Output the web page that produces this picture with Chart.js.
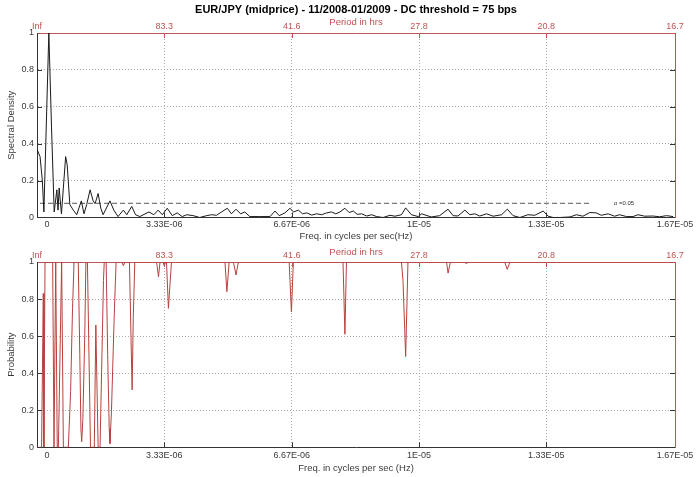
<!DOCTYPE html>
<html><head><meta charset="utf-8">
<script src="https://cdn.jsdelivr.net/npm/chart.js@4.4.1/dist/chart.umd.min.js"></script>
<style>
html,body{margin:0;padding:0;background:#fff;}
#wrap{position:relative;width:698px;height:477px;overflow:hidden;background:#fff;}
canvas{position:absolute;left:0;}
#c1{top:0;} #c2{top:242px;}
</style></head><body>
<div id="wrap"><canvas id="c1" width="698" height="242"></canvas><canvas id="c2" width="698" height="235"></canvas></div>
<script>
// ---------- DATA (frequency in units of 1E-06 Hz) ----------
const titleText = 'EUR/JPY (midprice) - 11/2008-01/2009 - DC threshold = 75 bps';
const freqTickValues = [0.26, 3.33, 6.67, 10, 13.33, 16.7];
const freqTickLabels = ['0', '3.33E-06', '6.67E-06', '1E-05', '1.33E-05', '1.67E-05'];
const periodTickValues = [0, 3.33, 6.67, 10, 13.33, 16.7];
const periodTickLabels = ['Inf', '83.3', '41.6', '27.8', '20.8', '16.7'];

const specFreq = [0, 0.08, 0.14, 0.18, 0.31, 0.38, 0.45, 0.52, 0.55, 0.58, 0.64, 0.75, 0.79, 0.86, 0.95, 1.04, 1.16, 1.23, 1.30, 1.39, 1.47, 1.52, 1.60, 1.67, 1.73, 1.91, 2.01, 2.12, 2.26, 2.35, 2.48, 2.58, 2.69, 2.93, 3.06, 3.17, 3.28, 3.41, 3.54, 3.67, 3.80, 3.92, 4.09, 4.26, 4.44, 4.57, 4.70, 4.83, 4.98, 5.09, 5.21, 5.33, 5.44, 5.57, 5.83, 6.10, 6.23, 6.34, 6.49, 6.62, 6.72, 6.84, 6.95, 7.06, 7.19, 7.32, 7.45, 7.58, 7.71, 7.82, 7.93, 8.06, 8.17, 8.28, 8.38, 8.50, 8.63, 8.76, 8.89, 9.06, 9.24, 9.37, 9.54, 9.65, 9.80, 9.98, 10.07, 10.24, 10.33, 10.54, 10.76, 10.89, 11.02, 11.20, 11.33, 11.46, 11.59, 11.77, 11.94, 12.16, 12.31, 12.46, 12.64, 12.85, 13.03, 13.25, 13.38, 13.51, 13.68, 13.95, 14.12, 14.29, 14.47, 14.64, 14.77, 14.95, 15.12, 15.25, 15.43, 15.60, 15.73, 15.91, 16.12, 16.30, 16.48, 16.65];
const specDensity = [0.37, 0.33, 0.20, 0.03, 1.0, 0.49, 0.03, 0.15, 0.04, 0.16, 0.02, 0.33, 0.285, 0.07, 0.04, 0.015, 0.09, 0.02, 0.07, 0.15, 0.09, 0.075, 0.13, 0.05, 0.015, 0.09, 0.04, 0.005, 0.04, 0.015, 0.06, 0.015, 0.005, 0.03, 0.015, 0.04, 0.015, 0.05, 0.01, 0.025, 0.005, 0.015, 0.01, 0.0, 0.01, 0.015, 0.012, 0.03, 0.05, 0.02, 0.045, 0.02, 0.03, 0.005, 0.005, 0.005, 0.035, 0.01, 0.025, 0.05, 0.03, 0.04, 0.02, 0.025, 0.013, 0.02, 0.015, 0.025, 0.03, 0.02, 0.03, 0.05, 0.027, 0.035, 0.017, 0.02, 0.008, 0.015, 0.005, 0.0, 0.012, 0.007, 0.015, 0.052, 0.015, 0.005, 0.02, 0.008, 0.003, 0.01, 0.045, 0.01, 0.008, 0.04, 0.015, 0.02, 0.008, 0.02, 0.007, 0.015, 0.045, 0.01, 0.0, 0.015, 0.012, 0.035, 0.007, 0.0, 0.0, 0.003, 0.015, 0.007, 0.027, 0.025, 0.012, 0.02, 0.007, 0.015, 0.005, 0.005, 0.015, 0.007, 0.008, 0.004, 0.01, 0.005];

const thresholdFreq = [0.08, 14.5];
const thresholdValue = [0.077, 0.077];
const alphaLabel = '\u03b1 =0.05';

const probFreq = [0, 0.12, 0.165, 0.18, 0.21, 0.41, 0.445, 0.49, 0.53, 0.56, 0.645, 0.69, 0.82, 0.88, 0.93, 0.97, 1.08, 1.12, 1.15, 1.17, 1.20, 1.25, 1.28, 1.32, 1.40, 1.50, 1.54, 1.60, 1.65, 1.70, 1.74, 1.76, 1.81, 1.85, 1.89, 1.91, 1.95, 2.02, 2.07, 2.22, 2.26, 2.30, 2.42, 2.46, 2.49, 2.52, 2.56, 3.13, 3.18, 3.22, 3.30, 3.33, 3.37, 3.39, 3.44, 3.52, 4.92, 4.97, 5.03, 5.14, 5.21, 5.27, 6.60, 6.66, 6.71, 8.01, 8.06, 8.10, 9.54, 9.58, 9.65, 9.71, 10.72, 10.76, 10.82, 11.20, 11.24, 11.28, 12.24, 12.31, 12.38, 16.7];
const probValue = [0, 0, 0.83, 0, 1, 1, 0, 1, 0, 0, 1, 0, 0, 0.3, 0.75, 1, 1, 0.5, 0.1, 0.03, 0.15, 0.6, 1, 1, 0, 0, 0.66, 0, 0, 0.5, 0.9, 1, 1, 0.5, 0.1, 0.02, 0.2, 0.7, 1, 1, 0.98, 1, 1, 0.6, 0.31, 0.7, 1, 1, 0.92, 1, 1, 0.98, 1, 1, 0.75, 1, 1, 0.84, 1, 1, 0.93, 1, 1, 0.73, 1, 1, 0.61, 1, 1, 0.9, 0.49, 1, 1, 0.94, 1, 1, 0.99, 1, 1, 0.96, 1, 1];

// ---------- STYLE ----------
const RED = '#c05353';
const DARK = '#333333';
const TXT = '#3a3a3a';
const FONT = "'Liberation Sans', Arial, Helvetica, sans-serif";
const GRID = '#aaaaaa';

const toXY = (xs, ys) => xs.map((x, i) => ({x, y: ys[i]}));

const innerTicks = {
  id: 'innerTicks',
  afterDraw(chart) {
    const {ctx, chartArea: a, scales} = chart;
    ctx.save();
    ctx.lineWidth = 1;
    const L = 5;
    ctx.strokeStyle = DARK;
    freqTickValues.slice(1, -1).forEach(v => {
      const px = Math.round(scales.x.getPixelForValue(v)) + 0.5;
      ctx.beginPath(); ctx.moveTo(px, a.bottom); ctx.lineTo(px, a.bottom - L); ctx.stroke();
    });
    [0.2, 0.4, 0.6, 0.8].forEach(v => {
      const py = Math.round(scales.y.getPixelForValue(v)) + 0.5;
      ctx.strokeStyle = DARK;
      ctx.beginPath(); ctx.moveTo(a.left, py); ctx.lineTo(a.left + L, py); ctx.stroke();
      ctx.beginPath(); ctx.moveTo(a.right, py); ctx.lineTo(a.right - L, py); ctx.stroke();
    });
    ctx.strokeStyle = RED;
    periodTickValues.slice(1, -1).forEach(v => {
      const px = Math.round(scales.x2.getPixelForValue(v)) + 0.5;
      ctx.beginPath(); ctx.moveTo(px, a.top); ctx.lineTo(px, a.top + L); ctx.stroke();
    });
    if (chart.options.plugins.innerTicks && chart.options.plugins.innerTicks.alpha) {
      ctx.fillStyle = DARK;
      ctx.font = '6px ' + FONT;
      ctx.textBaseline = 'middle';
      ctx.textAlign = 'left';
      ctx.fillText(alphaLabel, scales.x.getPixelForValue(15.1), scales.y.getPixelForValue(thresholdValue[0]));
    }
    ctx.restore();
  }
};

function makeOptions(cfg) {
  const hideEdge = (c) => {
    if (!c.tick) return GRID;
    const v = c.tick.value;
    return (Math.abs(v - c.scale.min) < 1e-9 || Math.abs(v - c.scale.max) < 1e-9) ? 'rgba(0,0,0,0)' : GRID;
  };
  return {
    responsive: false,
    animation: false,
    devicePixelRatio: 1,
    layout: {padding: {left: 0, right: 23, top: 0, bottom: 0}},
    plugins: {
      legend: {display: false},
      tooltip: {enabled: false},
      title: cfg.title ? {
        display: true, text: cfg.title, color: '#000', fullSize: false,
        font: {family: FONT, size: 11, weight: 'bold'}, padding: {top: 3, bottom: 0}
      } : {display: false},
      innerTicks: {alpha: cfg.alpha}
    },
    scales: {
      x: {
        type: 'linear', position: 'bottom', min: 0, max: 16.7,
        afterBuildTicks: s => { s.ticks = freqTickValues.map(v => ({value: v})); },
        afterFit: s => { s.height = cfg.xH; },
        ticks: {
          autoSkip: false, maxRotation: 0, padding: cfg.xTickPad, color: TXT,
          font: {family: FONT, size: 9},
          callback: (v, i) => freqTickLabels[i]
        },
        grid: {
          drawTicks: false, lineWidth: 1,
          color: c => {
            if (!c.tick) return GRID;
            const v = c.tick.value;
            return (v < 1 || v > 16) ? 'rgba(0,0,0,0)' : GRID;
          }
        },
        border: {display: true, color: DARK, width: 1, dash: [1, 2]},
        title: {display: true, text: cfg.xTitle, color: TXT, font: {family: FONT, size: 9.5}, padding: {top: 0, bottom: cfg.xTitlePad}}
      },
      x2: {
        type: 'linear', position: 'top', min: 0, max: 16.7,
        afterBuildTicks: s => { s.ticks = periodTickValues.map(v => ({value: v})); },
        afterFit: s => { s.height = cfg.x2H; },
        ticks: {
          autoSkip: false, maxRotation: 0, padding: cfg.x2TickPad, color: RED,
          font: {family: FONT, size: 9},
          callback: (v, i) => periodTickLabels[i]
        },
        grid: {display: false, drawTicks: false},
        border: {display: true, color: RED, width: 1},
        title: {display: true, text: 'Period in hrs', color: RED, font: {family: FONT, size: 9.5}, padding: {top: cfg.x2TitlePad, bottom: 0}}
      },
      y: {
        type: 'linear', position: 'left', min: 0, max: 1,
        afterFit: s => { s.width = 37; },
        ticks: {stepSize: 0.2, padding: 3, color: TXT, font: {family: FONT, size: 9},
          callback: v => String(Math.round(v * 10) / 10)},
        grid: {drawTicks: false, lineWidth: 1, color: hideEdge},
        border: {display: true, color: DARK, width: 1, dash: [1, 2]},
        title: {display: true, text: cfg.yTitle, color: TXT, font: {family: FONT, size: 9.5}, padding: {top: 6, bottom: 0}}
      },
      y2: {
        type: 'linear', position: 'right', min: 0, max: 1,
        afterFit: s => { s.width = 0; },
        ticks: {display: false},
        grid: {display: false, drawTicks: false},
        border: {display: true, color: RED, width: 1}
      }
    }
  };
}

new Chart(document.getElementById('c1'), {
  type: 'line',
  data: {
    datasets: [
      {data: toXY(specFreq, specDensity), borderColor: '#1a1a1a', borderWidth: 1, pointRadius: 0, tension: 0, xAxisID: 'x', yAxisID: 'y'},
      {data: toXY(thresholdFreq, thresholdValue), borderColor: '#555', borderWidth: 1, borderDash: [5, 3], pointRadius: 0, tension: 0, xAxisID: 'x', yAxisID: 'y'}
    ]
  },
  options: makeOptions({title: titleText, alpha: true, xH: 24.5, xTickPad: 2, xTitlePad: 0, x2H: 16.8, x2TickPad: 0.6, x2TitlePad: 0,
    xTitle: 'Freq. in cycles per sec(Hz)', yTitle: 'Spectral Density'}),
  plugins: [innerTicks]
});

new Chart(document.getElementById('c2'), {
  type: 'line',
  data: {
    datasets: [
      {data: toXY(probFreq, probValue), borderColor: '#b94040', borderWidth: 1, pointRadius: 0, tension: 0, xAxisID: 'x', yAxisID: 'y'}
    ]
  },
  options: makeOptions({title: null, alpha: false, xH: 29.7, xTickPad: 3.3, xTitlePad: 3.3, x2H: 20, x2TickPad: 0.6, x2TitlePad: 5,
    xTitle: 'Freq. in cycles per sec (Hz)', yTitle: 'Probability'}),
  plugins: [innerTicks]
});
</script>
</body></html>
